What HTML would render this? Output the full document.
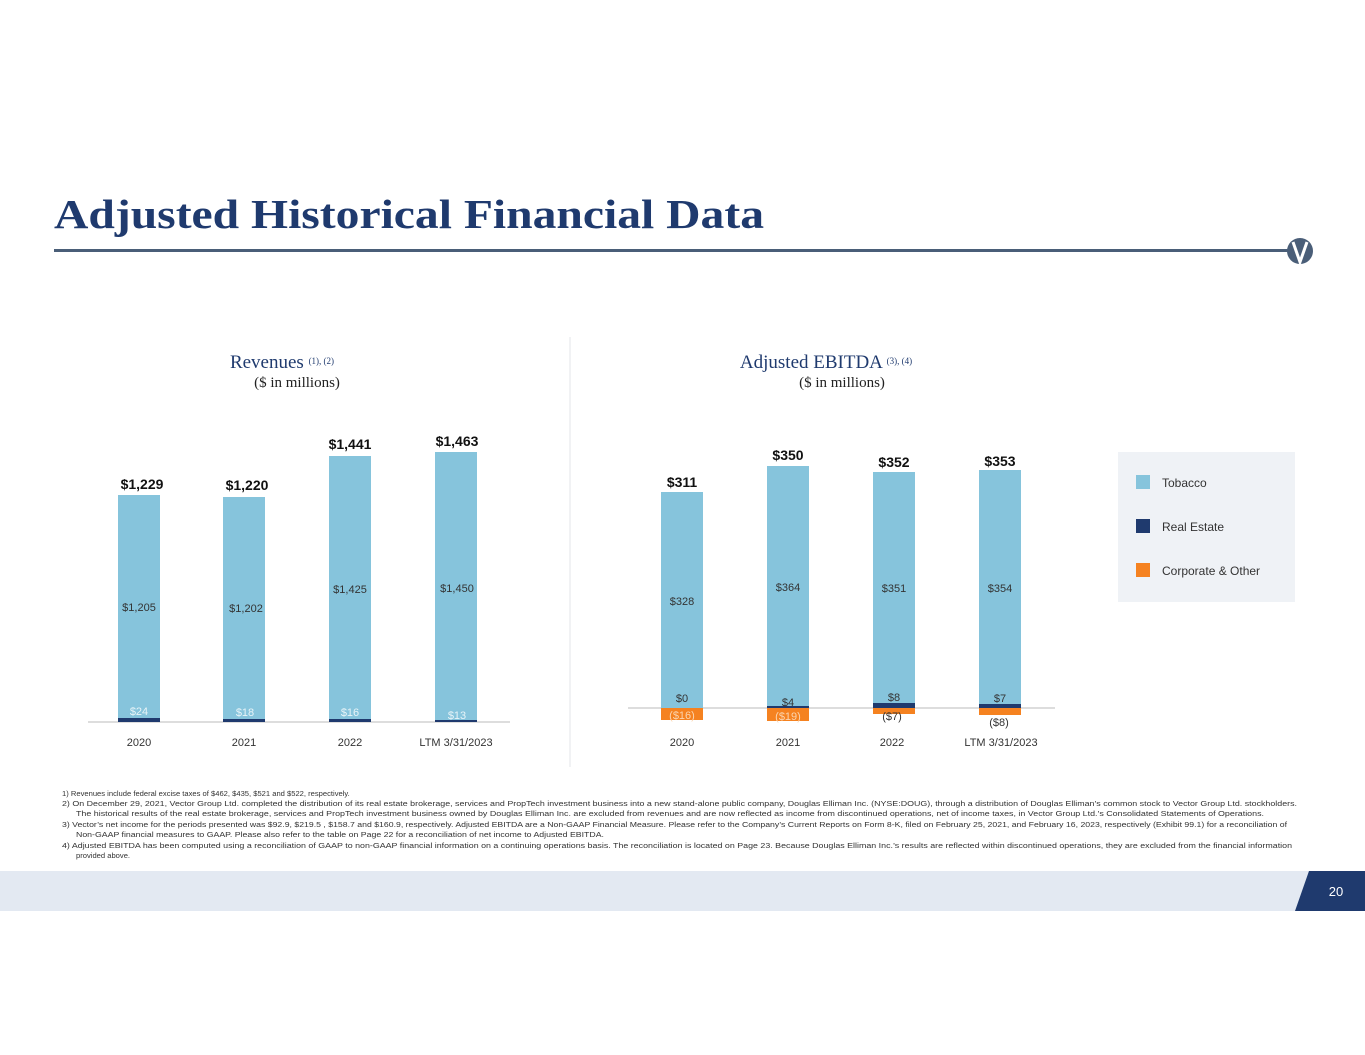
<!DOCTYPE html><html><head><meta charset="utf-8"><style>
body{margin:0;width:1365px;height:1055px;background:#fff;overflow:hidden}
svg{display:block}
.s{font-family:"Liberation Serif",serif}
.a{font-family:"Liberation Sans",sans-serif}
</style></head><body>
<svg width="1365" height="1055" xmlns="http://www.w3.org/2000/svg">
<text x="54" y="228" class="s" font-size="41" font-weight="bold" fill="#1f3a6e" textLength="710" lengthAdjust="spacingAndGlyphs">Adjusted Historical Financial Data</text>
<rect x="54" y="249" width="1240" height="3" fill="#4a5e78"/>
<ellipse cx="1300" cy="251" rx="13" ry="13" fill="#4a5e78"/>
<path d="M1293 242 L1300 262 L1307 242" stroke="#fff" stroke-width="3" fill="none"/>
<line x1="570" y1="337" x2="570" y2="767" stroke="#e3e6ea"/>
<text x="282" y="368" text-anchor="middle" class="s" font-size="19" fill="#1f3a6e">Revenues <tspan font-size="9" dy="-4">(1), (2)</tspan></text>
<text x="297" y="387" text-anchor="middle" class="s" font-size="15" fill="#222">($ in millions)</text>
<text x="826" y="368" text-anchor="middle" class="s" font-size="19" fill="#1f3a6e">Adjusted EBITDA <tspan font-size="9" dy="-4">(3), (4)</tspan></text>
<text x="842" y="387" text-anchor="middle" class="s" font-size="15" fill="#222">($ in millions)</text>
<g class="a">
<line x1="88" y1="722" x2="510" y2="722" stroke="#bbb"/>
<rect x="118" y="495" width="42" height="227" fill="#86c4dc"/><rect x="118" y="718" width="42" height="4" fill="#1f3a6e"/>
<rect x="223" y="497" width="42" height="225" fill="#86c4dc"/><rect x="223" y="719" width="42" height="3" fill="#1f3a6e"/>
<rect x="329" y="456" width="42" height="266" fill="#86c4dc"/><rect x="329" y="719" width="42" height="3" fill="#1f3a6e"/>
<rect x="435" y="452" width="42" height="270" fill="#86c4dc"/><rect x="435" y="720" width="42" height="2" fill="#1f3a6e"/>
<line x1="628" y1="708" x2="1055" y2="708" stroke="#bbb"/>
<rect x="661" y="492" width="42" height="216" fill="#86c4dc"/><rect x="661" y="708" width="42" height="12" fill="#f58220"/>
<rect x="767" y="466" width="42" height="240" fill="#86c4dc"/><rect x="767" y="706" width="42" height="2" fill="#1f3a6e"/><rect x="767" y="708" width="42" height="13" fill="#f58220"/>
<rect x="873" y="472" width="42" height="231" fill="#86c4dc"/><rect x="873" y="703" width="42" height="5" fill="#1f3a6e"/><rect x="873" y="708" width="42" height="6" fill="#f58220"/>
<rect x="979" y="470" width="42" height="234" fill="#86c4dc"/><rect x="979" y="704" width="42" height="4" fill="#1f3a6e"/><rect x="979" y="708" width="42" height="7" fill="#f58220"/>
<g font-size="14" font-weight="bold" fill="#111" text-anchor="middle">
<text x="142" y="489">$1,229</text><text x="247" y="490">$1,220</text><text x="350" y="449">$1,441</text><text x="457" y="446">$1,463</text>
<text x="682" y="487">$311</text><text x="788" y="460">$350</text><text x="894" y="467">$352</text><text x="1000" y="466">$353</text>
</g>
<g font-size="11" fill="#333" text-anchor="middle">
<text x="139" y="611">$1,205</text><text x="246" y="612">$1,202</text><text x="350" y="593">$1,425</text><text x="457" y="592">$1,450</text>
<text x="139" y="715" fill="#e8f4f8">$24</text><text x="245" y="716" fill="#e8f4f8">$18</text><text x="350" y="716" fill="#e8f4f8">$16</text><text x="457" y="719" fill="#e8f4f8">$13</text>
<text x="139" y="746">2020</text><text x="244" y="746">2021</text><text x="350" y="746">2022</text><text x="456" y="746">LTM 3/31/2023</text>
<text x="682" y="605">$328</text><text x="788" y="591">$364</text><text x="894" y="592">$351</text><text x="1000" y="592">$354</text>
<text x="682" y="702">$0</text><text x="788" y="706">$4</text><text x="894" y="701">$8</text><text x="1000" y="702">$7</text>
<text x="682" y="719" fill="#fbd5b0">($16)</text><text x="788" y="720" fill="#fbd5b0">($19)</text><text x="892" y="720">($7)</text><text x="999" y="726">($8)</text>
<text x="682" y="746">2020</text><text x="788" y="746">2021</text><text x="892" y="746">2022</text><text x="1001" y="746">LTM 3/31/2023</text>
</g>
<rect x="1118" y="452" width="177" height="150" fill="#eff2f6"/>
<rect x="1136" y="475" width="14" height="14" fill="#86c4dc"/><text x="1162" y="487" font-size="12" fill="#333">Tobacco</text>
<rect x="1136" y="519" width="14" height="14" fill="#1f3a6e"/><text x="1162" y="531" font-size="12" fill="#333">Real Estate</text>
<rect x="1136" y="563" width="14" height="14" fill="#f58220"/><text x="1162" y="575" font-size="12" fill="#333">Corporate &amp; Other</text>
<g font-size="7.6" fill="#333">
<text x="62" y="796">1)   Revenues include federal excise taxes of $462, $435, $521 and $522, respectively.</text>
<text x="62" y="806" textLength="1235" lengthAdjust="spacingAndGlyphs">2)   On December 29, 2021, Vector Group Ltd. completed the distribution of its real estate brokerage, services and PropTech investment business into a new stand-alone public company, Douglas Elliman Inc. (NYSE:DOUG), through a distribution of Douglas Elliman’s common stock to Vector Group Ltd. stockholders.</text>
<text x="76" y="816" textLength="1188" lengthAdjust="spacingAndGlyphs">The historical results of the real estate brokerage, services and PropTech investment business owned by Douglas Elliman Inc. are excluded from revenues and are now reflected as income from discontinued operations, net of income taxes, in Vector Group Ltd.’s Consolidated Statements of Operations.</text>
<text x="62" y="827" textLength="1225" lengthAdjust="spacingAndGlyphs">3)   Vector’s net income for the periods presented was $92.9, $219.5 , $158.7 and $160.9, respectively. Adjusted EBITDA are a Non-GAAP Financial Measure. Please refer to the Company’s Current Reports on Form 8-K, filed on February 25, 2021, and February 16, 2023, respectively (Exhibit 99.1) for a reconciliation of</text>
<text x="76" y="837" textLength="528" lengthAdjust="spacingAndGlyphs">Non-GAAP financial measures to GAAP. Please also refer to the table on Page 22 for a reconciliation of net income to Adjusted EBITDA.</text>
<text x="62" y="848" textLength="1230" lengthAdjust="spacingAndGlyphs">4)   Adjusted EBITDA has been computed using a reconciliation of GAAP to non-GAAP financial information on a continuing operations basis. The reconciliation is located on Page 23.  Because Douglas Elliman Inc.’s results are reflected within discontinued operations, they are excluded from the financial information</text>
<text x="76" y="858">provided above.</text>
</g>
<rect x="0" y="871" width="1365" height="40" fill="#e3e9f2"/>
<polygon points="1309,871 1365,871 1365,911 1295,911" fill="#1f3a6e"/>
<text x="1336" y="896" font-size="13" fill="#fff" text-anchor="middle">20</text>
</g>
</svg>
</body></html>
